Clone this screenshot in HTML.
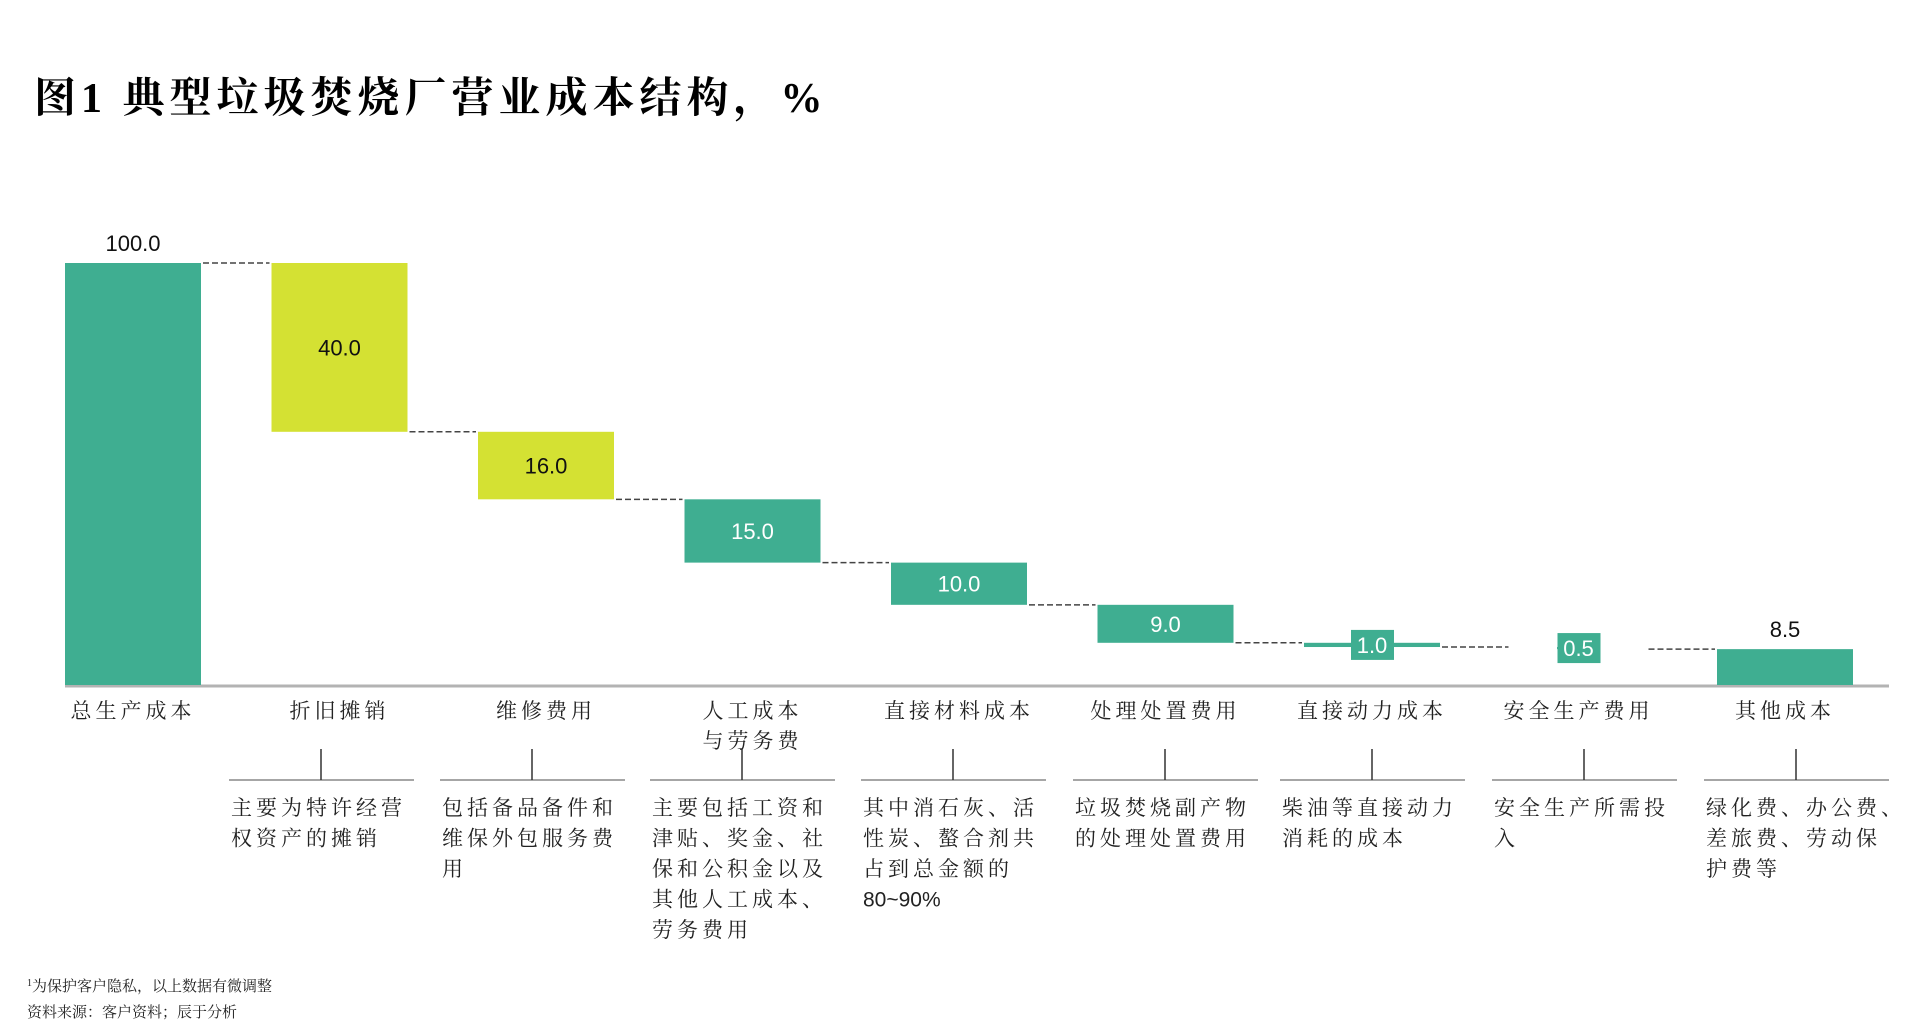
<!DOCTYPE html>
<html><head><meta charset="utf-8">
<style>
html,body{margin:0;padding:0;background:#fff;}
svg{display:block;}
.ser{font-family:"Liberation Serif","Noto Serif CJK SC",serif;}
.num{font-family:"Liberation Sans","Noto Sans CJK SC",sans-serif;}
</style></head>
<body>
<svg id="c" width="1920" height="1028" viewBox="0 0 1920 1028" xmlns="http://www.w3.org/2000/svg">
<text x="34" y="112" font-size="42" font-weight="bold" class="ser" fill="#000" letter-spacing="5">图1 典型垃圾焚烧厂营业成本结构，%</text>
<text x="27" y="991" font-size="15" class="ser" fill="#222"><tspan font-size="10" dy="-5">1</tspan><tspan dy="5">为保护客户隐私，以上数据有微调整</tspan></text>
<text x="27" y="1017" font-size="15" class="ser" fill="#222">资料来源：客户资料；辰于分析</text>
</svg>
<script>
const categories = ["总生产成本","折旧摊销","维修费用","人工成本|与劳务费","直接材料成本","处理处置费用","直接动力成本","安全生产费用","其他成本"];
const values = [100.0, 40.0, 16.0, 15.0, 10.0, 9.0, 1.0, 0.5, 8.5];
const kinds = ["total","dec","dec","dec","dec","dec","dec","dec","total"];
const descriptions = [
 ["主要为特许经营","权资产的摊销"],
 ["包括备品备件和","维保外包服务费","用"],
 ["主要包括工资和","津贴、奖金、社","保和公积金以及","其他人工成本、","劳务费用"],
 ["其中消石灰、活","性炭、螯合剂共","占到总金额的","80~90%"],
 ["垃圾焚烧副产物","的处理处置费用"],
 ["柴油等直接动力","消耗的成本"],
 ["安全生产所需投","入"],
 ["绿化费、办公费、","差旅费、劳动保","护费等"]
];
const labels = ["100.0","40.0","16.0","15.0","10.0","9.0","1.0","0.5","8.5"];

const svg = document.getElementById('c');
const NS = "http://www.w3.org/2000/svg";
const baseY = 685, unit = 4.22, x0 = 65, pitch = 206.5, bw = 136;
const yS = v => baseY - v*unit;
const xS = i => x0 + i*pitch;
function mk(tag, attrs, parent){const e=document.createElementNS(NS,tag);for(const k in attrs)e.setAttribute(k,attrs[k]);(parent||svg).appendChild(e);return e;}

const ax = mk('line',{x1:65,x2:1889,y1:baseY+1,y2:baseY+1,stroke:'#b3b3b3','stroke-width':3});



let level = 0;
const tops=[], bots=[];
values.forEach((v,i)=>{
  let top, bot;
  if(kinds[i]==='total'){ top=v; bot=0; level=v; }
  else { top=level; bot=level-v; level=bot; }
  tops.push(top); bots.push(bot);
});
values.forEach((v,i)=>{
  const x=xS(i), y1=yS(tops[i]), y2=yS(bots[i]);
  const color = (i===1||i===2)?'#d4e133':'#3fae91';
  const cx=x+bw/2;
  const h=y2-y1;
  // very thin bars are hidden behind their label box
  const rw = h<3 ? 43 : bw;
  const r = mk('rect',{x:cx-rw/2,y:y1,width:rw,height:Math.max(h,1),fill:color});
  
  
  let ty;
  if(kinds[i]==='total'){ ty=y1-12; }
  else if(h>30){ ty=(y1+y2)/2+8; }
  else {
    const bx = mk('rect',{x:cx-21,y:(y1+y2)/2-15,width:43,height:30,fill:'#3fae91'});
    
    
    ty=(y1+y2)/2+8;
  }
  const white = (kinds[i]!=='total') && color==='#3fae91';
  const t = mk('text',{x:cx,y:ty,'text-anchor':'middle','font-size':22,class:'num',fill:white?'#fff':'#111'});
  t.textContent = labels[i];
  
  
  if(i<values.length-1){
    const lv = kinds[i]==='total'?tops[i]:bots[i];
    const d = mk('line',{x1:x+bw+2,x2:xS(i+1)-2,y1:yS(lv),y2:yS(lv),stroke:'#444','stroke-width':1.5,'stroke-dasharray':'6,3'});
    
    
  }
  const parts = categories[i].split('|');
  parts.forEach((p,k)=>{
    const ct = mk('text',{x:cx,y:718+k*30,'text-anchor':'middle','font-size':21,class:'ser',fill:'#222','letter-spacing':4});
    ct.textContent=p;
    
    
  });
});

const colX = [229,440,650,861,1073,1280,1492,1704];
descriptions.forEach((lines,j)=>{
  const x=colX[j];
  const hl = mk('line',{x1:x,x2:x+185,y1:780,y2:780,stroke:'#a6a6a6','stroke-width':2});
  
  
  const tk = mk('line',{x1:x+92,x2:x+92,y1:749,y2:780,stroke:'#333','stroke-width':1.5});
  
  
  lines.forEach((ln,k)=>{
    const isLatin=/^[0-9~%]+$/.test(ln);
    const t = mk('text',{x:x+2,y:815+k*30.5,'font-size':21,class:isLatin?'num':'ser',fill:'#222','letter-spacing':isLatin?0:4});
    t.textContent=ln;
    
    
  });
});
</script>
</body></html>
